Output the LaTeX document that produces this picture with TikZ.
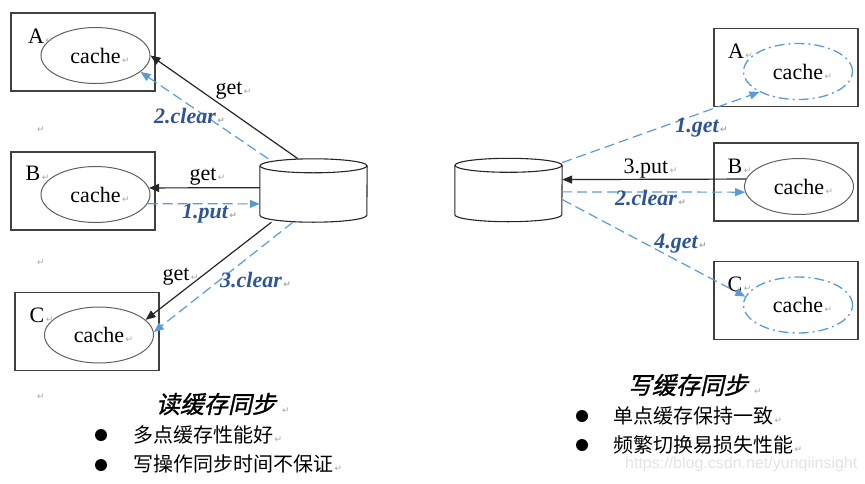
\documentclass[tikz,border=0pt]{standalone}
\usepackage{fontspec}
\setmainfont{Liberation Serif}
\newfontfamily\cjkfont{Noto Sans CJK SC}
\newfontfamily\cjkcapfont[FakeSlant=0.22,FakeBold=1.2]{Noto Sans CJK SC}
\newfontfamily\markfont{DejaVu Sans}
\newfontfamily\wmfont{Liberation Sans}
\usetikzlibrary{shapes.geometric, arrows.meta, positioning, calc}
\definecolor{lineblue}{RGB}{91,155,213}
\definecolor{labelblue}{RGB}{47,84,150}
\definecolor{framegray}{RGB}{64,64,64}
\definecolor{ovalgray}{RGB}{96,96,96}
\newcommand{\pmark}[1][1.5pt]{\rlap{\kern#1\textcolor{gray!70}{\markfont\fontsize{9}{9}\selectfont ↵}}}
% drum outline round a db node (107 x 63, end ellipses of radius 7)
\newcommand{\drum}[1]{%
  \draw[dbline] ($(#1.north west)+(0,7)$) -- ($(#1.south west)+(0,-7)$)
    arc[start angle=180, end angle=0, x radius=53.5, y radius=7] -- ($(#1.north east)+(0,7)$);
  \draw[dbline] ($(#1.north)+(0,7)$) ellipse[x radius=53.5, y radius=7];}

\begin{document}
\begin{tikzpicture}[x=1pt, y=-1pt,
    cachebox/.style={rectangle, draw=framegray, line width=1.3pt, minimum width=144pt, minimum height=78pt, inner sep=0pt},
    cache/.style={ellipse, draw=ovalgray, line width=1pt, minimum width=109pt, minimum height=56pt, inner sep=0pt, font=\fontsize{22}{26}\selectfont},
    cachedd/.style={cache, draw=lineblue, line width=1.3pt, dash pattern=on 10pt off 4pt on 2pt off 4pt},
    db/.style={rectangle, minimum width=107pt, minimum height=63pt, inner sep=0pt},
    dbline/.style={draw=black!85, line width=1.1pt},
    tag/.style={anchor=base, inner sep=0pt, font=\fontsize{22}{26}\selectfont},
    btag/.style={anchor=base, inner sep=0pt, text=labelblue, font=\fontsize{22}{26}\selectfont\bfseries\itshape},
    arr/.style={-{Triangle[length=10pt, width=8pt]}, line width=1.2pt, black!85},
    darr/.style={-{Triangle[length=10pt, width=8pt]}, line width=1.2pt, lineblue, dash pattern=on 10pt off 5pt},
    dot/.style={circle, fill=black, minimum size=12pt, inner sep=0pt},
    note/.style={anchor=west, inner sep=0pt, font=\cjkfont\fontsize{20}{24}\selectfont},
    title/.style={inner sep=0pt, font=\cjkcapfont\fontsize{24}{28}\selectfont},
    pm/.style={inner sep=0pt, text=gray!70, font=\markfont\fontsize{9}{9}\selectfont}
]
\useasboundingbox (0,0) rectangle (865,483);

% read sync (left)
\node[cachebox] (boxLA) at (83,52) {};
\node[cachebox] (boxLB) at (83,191) {};
\node[cachebox] (boxLC) at (87,331.5) {};
\node[cache] (cacheLA) at (95.5,55.5) {cache\pmark};
\node[cache] (cacheLB) at (95.5,194.5) {cache\pmark};
\node[cache] (cacheLC) at (99,335) {cache\pmark};
\node[tag] (nameLA) at (36,43) {A\pmark};
\node[tag] (nameLB) at (33,180) {B\pmark};
\node[tag] (nameLC) at (37,322) {C\pmark};
\node[db] (dbL) at (313.5,190.5) {};
\drum{dbL}

\draw[arr] (dbL.116) -- (cacheLA.east);
\draw[darr] (dbL.145) -- (cacheLA.-20);
\draw[arr] (dbL.177) -- (cacheLB.7);
\draw[darr] (cacheLB.-10) -- (dbL.194);
\draw[arr] (dbL.217) -- (cacheLC.18);
\draw[darr] (dbL.237) -- (cacheLC.3);

\node[tag] (getLA) at (229,94) {get\pmark};
\node[btag] (clearLA) at (185,123) {2.clear\pmark};
\node[tag] (getLB) at (203,180) {get\pmark};
\node[btag] (putLB) at (205,218) {1.put\pmark};
\node[tag] (getLC) at (176,280) {get\pmark};
\node[btag] (clearLC) at (251,287) {3.clear\pmark};

\node[pm] (pmA) at (41,130) {↵};
\node[pm] (pmB) at (41,263) {↵};
\node[pm] (pmC) at (41,397) {↵};

\node[title] (titleL) at (216,404) {读缓存同步\pmark[6pt]};
\node[dot] (dotL1) at (101,435) {};
\node[dot] (dotL2) at (101,465) {};
\node[note] (noteL1) at (133,435) {多点缓存性能好\pmark};
\node[note] (noteL2) at (133,464) {写操作同步时间不保证\pmark};

% write sync (right)
\node[cachebox] (boxRA) at (786,67.5) {};
\node[cachebox] (boxRB) at (786,182) {};
\node[cachebox] (boxRC) at (786,300.5) {};
\node[cachedd] (cacheRA) at (798,71.5) {cache\pmark};
\node[cache] (cacheRB) at (799,186.5) {cache\pmark};
\node[cachedd] (cacheRC) at (798,305) {cache\pmark};
\node[tag] (nameRA) at (736,58) {A\pmark};
\node[tag] (nameRB) at (735,173) {B\pmark};
\node[tag] (nameRC) at (735,291) {C\pmark};
\node[db] (dbR) at (508.5,190) {};
\drum{dbR}

\draw[darr] (dbR.27) -- (cacheRA.208);
\draw[arr] (cacheRB.172) -- (dbR.11);
\draw[darr] (dbR.-2) -- (cacheRB.186);
\draw[darr] (dbR.-10) -- (cacheRC.171);

\node[btag] (getRA) at (697,132) {1.get\pmark};
\node[tag] (putRB) at (646,173) {3.put\pmark};
\node[btag] (clearRB) at (646,205) {2.clear\pmark};
\node[btag] (getRC) at (676,248) {4.get\pmark};

\node[title] (titleR) at (688,385) {写缓存同步\pmark[6pt]};
\node[dot] (dotR1) at (582,416) {};
\node[dot] (dotR2) at (582,445) {};
\node[note] (noteR1) at (613,416) {单点缓存保持一致\pmark};
\node[note] (noteR2) at (613,445) {频繁切换易损失性能\pmark};

\node[anchor=base west, inner sep=0pt, text=gray!22, font=\wmfont\fontsize{16}{16}\selectfont] (mark) at (625,468) {https://blog.csdn.net/yunqiinsight};
\end{tikzpicture}
\end{document}
